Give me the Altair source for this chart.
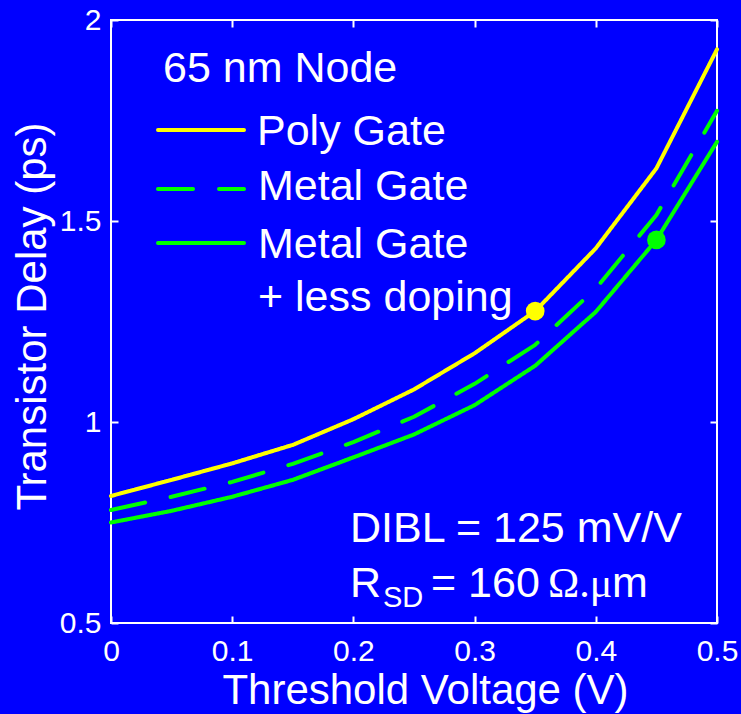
import altair as alt
import pandas as pd

# Transistor delay vs. threshold voltage, 65 nm node
vth = [0.0, 0.05, 0.1, 0.15, 0.2, 0.25, 0.3, 0.35, 0.4, 0.45, 0.5]
poly_gate = [0.816, 0.856, 0.897, 0.943, 1.007, 1.081, 1.171, 1.276, 1.432, 1.631, 1.927]
metal_gate = [0.781, 0.814, 0.851, 0.896, 0.950, 1.013, 1.095, 1.192, 1.332, 1.515, 1.774]
metal_less_doping = [0.750, 0.779, 0.814, 0.856, 0.912, 0.969, 1.042, 1.140, 1.274, 1.453, 1.697]

series_names = ["Poly Gate", "Metal Gate", "Metal Gate + less doping"]
series_colors = ["#FFFF00", "#00FF00", "#00FF00"]
series_dashes = [[1, 0], [35, 26], [1, 0]]

# operating points highlighted on two of the curves
marker_series = ["Poly Gate", "Metal Gate + less doping"]
marker_vth = [0.35, 0.45]

x_ticks = [0, 0.1, 0.2, 0.3, 0.4, 0.5]
y_ticks = [0.5, 1, 1.5, 2]

FONT = "Liberation Sans"
BG = "#0000FF"
W, H = 606, 603
BIG = 43
TITLE = 42

curves = {
    "Poly Gate": poly_gate,
    "Metal Gate": metal_gate,
    "Metal Gate + less doping": metal_less_doping,
}
rows = []
for name, vals in curves.items():
    for v, d in zip(vth, vals):
        rows.append({"vth": v, "delay": d, "series": name})
df = pd.DataFrame(rows)

markers = pd.DataFrame({
    "series": marker_series,
    "vth": marker_vth,
    "delay": [curves[s][vth.index(v)] for s, v in zip(marker_series, marker_vth)],
})

color_scale = alt.Scale(domain=series_names, range=series_colors)
dash_scale = alt.Scale(domain=series_names, range=series_dashes)
x_scale = alt.Scale(domain=[0, 0.5], nice=False, zero=False)
y_scale = alt.Scale(domain=[0.5, 2], nice=False, zero=False)

common_axis = dict(
    offset=-7, tickSize=7, tickWidth=2, tickColor="white",
    domain=False, grid=False, labelFlush=False, labelOverlap=False,
)

x_axis = alt.Axis(
    values=x_ticks, format="~g", orient="bottom",
    labelColor="white", labelFont=FONT, labelFontSize=30,
    labelBaseline="alphabetic", labelPadding=37,
    title="Threshold Voltage (V)", titleColor="white", titleFont=FONT,
    titleFontSize=TITLE, titleFontWeight="normal",
    titleX=314, titleY=87, titleBaseline="alphabetic",
    **common_axis,
)
y_axis = alt.Axis(
    values=y_ticks, format="~g", orient="left",
    labelColor="white", labelFont=FONT, labelFontSize=30,
    labelPadding=10,
    title="Transistor Delay (ps)", titleColor="white", titleFont=FONT,
    titleFontSize=TITLE, titleFontWeight="normal", titleAngle=270,
    titleX=-73, titleY=296, titleBaseline="alphabetic",
    **common_axis,
)
x_axis_top = alt.Axis(values=x_ticks, orient="top", labels=False, title=None, **common_axis)
y_axis_right = alt.Axis(values=y_ticks, orient="right", labels=False, title=None, **common_axis)

lines = alt.Chart(df).mark_line(strokeWidth=4, strokeCap="round", strokeJoin="round").encode(
    x=alt.X("vth:Q", scale=x_scale, axis=x_axis),
    y=alt.Y("delay:Q", scale=y_scale, axis=y_axis),
    color=alt.Color("series:N", scale=color_scale, legend=None),
    strokeDash=alt.StrokeDash("series:N", scale=dash_scale, legend=None),
    detail="series:N",
)

points = alt.Chart(markers).mark_circle(size=350, opacity=1).encode(
    x=alt.X("vth:Q", scale=x_scale, axis=x_axis_top),
    y=alt.Y("delay:Q", scale=y_scale, axis=y_axis_right),
    color=alt.Color("series:N", scale=color_scale, legend=None),
)


def text_at(text, x, y, size=BIG, font=FONT):
    return alt.Chart(pd.DataFrame({"t": [text]})).mark_text(
        align="left", baseline="alphabetic", fontSize=size, font=font, color="white"
    ).encode(x=alt.value(x), y=alt.value(y), text="t:N")


def key_line(name, y):
    return alt.Chart(pd.DataFrame({"series": [name]})).mark_rule(
        strokeWidth=4, strokeCap="round"
    ).encode(
        x=alt.value(47), x2=alt.value(133), y=alt.value(y),
        color=alt.Color("series:N", scale=color_scale, legend=None),
        strokeDash=alt.StrokeDash("series:N", scale=dash_scale, legend=None),
    )


annotations = [
    text_at("65 nm Node", 52, 62),
    key_line("Poly Gate", 110),
    text_at("Poly Gate", 146, 125),
    key_line("Metal Gate", 169),
    text_at("Metal Gate", 147, 180),
    key_line("Metal Gate + less doping", 223),
    text_at("Metal Gate", 147, 238),
    text_at("+ less doping", 147, 291),
    text_at("DIBL = 125 mV/V", 239, 522),
    text_at("R", 239, 577),
    text_at("SD", 272, 587, size=29),
    text_at("= 160", 320, 577),
    text_at("\u03a9.\u03bc", 437, 577, size=42, font="Liberation Serif"),
    text_at("m", 501, 577),
]

chart = alt.layer(lines, points, *annotations).resolve_axis(
    x="independent", y="independent"
).properties(
    width=W, height=H,
    autosize=alt.AutoSizeParams(type="none"),
    padding={"left": 111, "top": 20, "right": 24, "bottom": 91},
    background=BG,
).configure_view(
    stroke="white", strokeWidth=2, fill=BG,
)

chart.save("out.html", embed_options={"renderer": "svg", "actions": False})
